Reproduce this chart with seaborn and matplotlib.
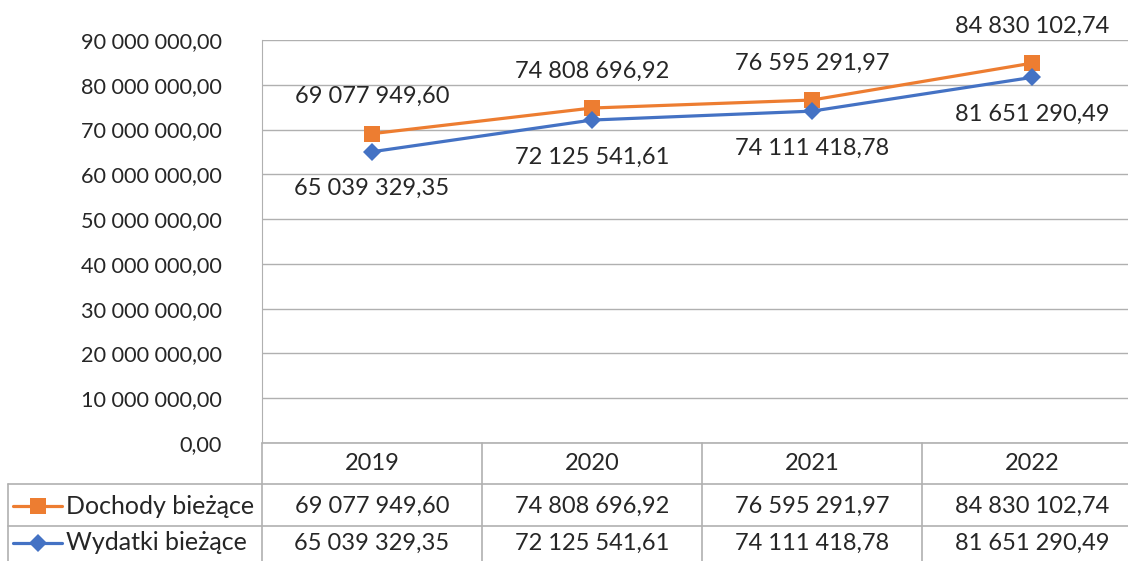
import matplotlib.pyplot as plt
import numpy as np
import seaborn as sns
from matplotlib.lines import Line2D

# Data
years = ["2019", "2020", "2021", "2022"]
dochody = [69077949.60, 74808696.92, 76595291.97, 84830102.74]
wydatki = [65039329.35, 72125541.61, 74111418.78, 81651290.49]
series_names = ["Dochody bieżące", "Wydatki bieżące"]
y_ticks = [0, 10e6, 20e6, 30e6, 40e6, 50e6, 60e6, 70e6, 80e6, 90e6]

ORANGE = "#ED7D31"
BLUE = "#4472C4"
GRID = "#B0B0B0"
FS = 17
FS_TICK = 15.6


def fmt(v):
    s = f"{v:,.2f}"
    return s.replace(",", " ").replace(".", ",")


sns.set_style("white")
plt.rcParams["font.family"] = ["Lato", "DejaVu Sans"]

W, H = 1128, 561
fig = plt.figure(figsize=(W / 100, H / 100), dpi=100)

# pixel layout of the Excel-like chart
left_px, col_w, top_px, zero_px = 262, 220, 40, 443
ax = fig.add_axes([left_px / W, (H - zero_px) / H, 4 * col_w / W, (zero_px - top_px) / H])

x = np.arange(len(years))
sns.lineplot(x=x, y=dochody, ax=ax, color=ORANGE, linewidth=2.3, marker="s",
             markersize=12, markeredgewidth=0, zorder=3)
sns.lineplot(x=x, y=wydatki, ax=ax, color=BLUE, linewidth=2.3, marker="D",
             markersize=9, markeredgewidth=0, zorder=3)

ax.set_xlim(-0.5, 3.5)
ax.set_ylim(0, 90e6)
ax.set_yticks(y_ticks)
ax.set_yticklabels([fmt(v) for v in y_ticks], fontsize=FS_TICK)
ax.tick_params(axis="y", length=0, pad=29)
ax.set_xticks([])
ax.grid(axis="y", color=GRID, linewidth=1)
for side in ["top", "right", "bottom"]:
    ax.spines[side].set_visible(False)
ax.spines["left"].set_color(GRID)
ax.set_axisbelow(True)

# data labels
for xi, v in zip(x, dochody):
    ax.annotate(fmt(v), (xi, v), xytext=(0, 37), textcoords="offset pixels",
                ha="center", va="center", fontsize=FS)
for xi, v in zip(x, wydatki):
    ax.annotate(fmt(v), (xi, v), xytext=(0, -37), textcoords="offset pixels",
                ha="center", va="center", fontsize=FS)

# data table below the plot
tax = fig.add_axes([0, 0, (left_px + 4 * col_w) / W, (H - zero_px) / H])
x0 = -0.5 - left_px / col_w
tax.set_xlim(x0, 3.5)
tax.set_ylim(H - zero_px, 0)
tax.axis("off")

row_lines = [41, 83]
lkw = dict(color=GRID, linewidth=1.2, clip_on=False)
tax.plot([-0.5, 3.5], [0, 0], **lkw)
for ry in row_lines:
    tax.plot([x0 + 8 / col_w, 3.5], [ry, ry], **lkw)
for b in [-0.5, 0.5, 1.5, 2.5]:
    tax.plot([b, b], [0, H - zero_px], **lkw)
tax.plot([x0 + 8 / col_w, x0 + 8 / col_w], [41, H - zero_px], **lkw)

for xi, yr in zip(x, years):
    tax.text(xi, 21, yr, ha="center", va="center", fontsize=FS)
for xi, a, b in zip(x, dochody, wydatki):
    tax.text(xi, 63, fmt(a), ha="center", va="center", fontsize=FS)
    tax.text(xi, 100, fmt(b), ha="center", va="center", fontsize=FS)

# legend keys in the first column
key_x = [x0 + 13 / col_w, x0 + 62 / col_w]
key_mid = (key_x[0] + key_x[1]) / 2
tax.add_line(Line2D(key_x, [63, 63], color=ORANGE, linewidth=2.3))
tax.add_line(Line2D([key_mid], [63], color=ORANGE, marker="s", markersize=12,
                    markeredgewidth=0))
tax.add_line(Line2D(key_x, [100, 100], color=BLUE, linewidth=2.3))
tax.add_line(Line2D([key_mid], [100], color=BLUE, marker="D", markersize=9,
                    markeredgewidth=0))
tax.text(x0 + 66 / col_w, 63, series_names[0], ha="left", va="center", fontsize=18)
tax.text(x0 + 66 / col_w, 100, series_names[1], ha="left", va="center", fontsize=18)

fig.savefig("out.png", dpi=100)
